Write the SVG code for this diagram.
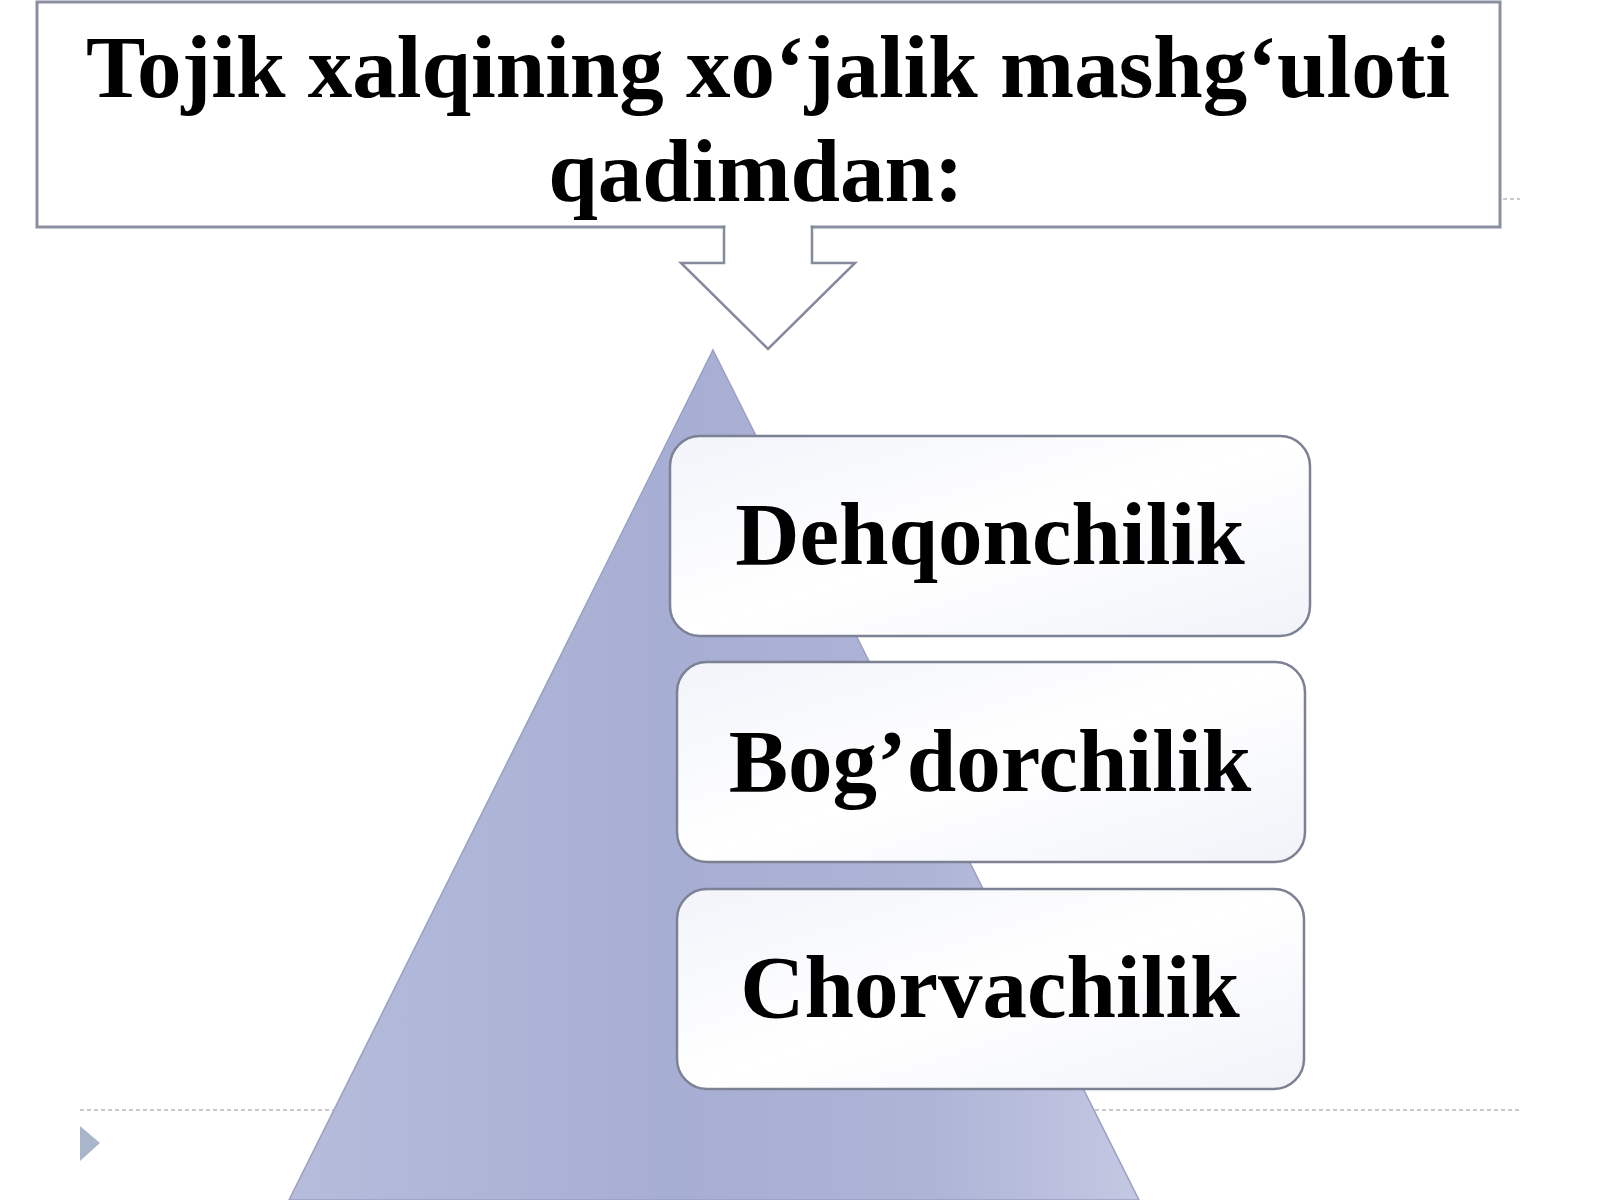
<svg xmlns="http://www.w3.org/2000/svg" width="1600" height="1200" viewBox="0 0 1600 1200">
<defs>
<linearGradient id="triFill" x1="0" y1="0" x2="1" y2="0">
<stop offset="0" stop-color="#b6bcdb"/>
<stop offset="0.45" stop-color="#a7aed3"/>
<stop offset="0.75" stop-color="#adb4d6"/>
<stop offset="1" stop-color="#c3c8e2"/>
</linearGradient>
<linearGradient id="boxFill" x1="0" y1="0" x2="1" y2="1">
<stop offset="0" stop-color="#f2f4fa"/>
<stop offset="0.5" stop-color="#ffffff"/>
<stop offset="1" stop-color="#f1f3f9"/>
</linearGradient>
</defs>
<style>
.title{font-family:"Liberation Serif","Times New Roman",serif;font-weight:bold;font-size:89px;fill:#000;text-anchor:middle}
.lbl{font-family:"Liberation Serif","Times New Roman",serif;font-weight:bold;font-size:89px;fill:#000;text-anchor:middle}
.box{fill:url(#boxFill);stroke:#7c8194;stroke-width:2.5}
.faint{stroke:#b8b8b8;stroke-width:1.5;stroke-dasharray:4 3;fill:none}
</style>
<rect width="1600" height="1200" fill="#ffffff"/>
<g id="decor">
<line class="faint" x1="80" y1="1110" x2="1520" y2="1110"/>
<line class="faint" x1="1503" y1="199" x2="1520" y2="199"/>
<polygon points="80,1126 100,1143 80,1161" fill="#a9b5c8"/>
</g>
<g id="pyramid">
<polygon points="713,350 1139,1200 289,1200" fill="url(#triFill)" stroke="#9aa0c4" stroke-width="1.5"/>
</g>
<g id="title">
<rect x="37" y="2" width="1463" height="225" fill="#ffffff" stroke="#8a8ea2" stroke-width="3"/>
<text class="title" x="768" y="97">Tojik xalqining xo‘jalik mashg‘uloti</text>
<text class="title" x="756" y="201">qadimdan:</text>
</g>
<g id="connectors">
<polygon points="724,227 812,227 812,263 855,263 768,349 681,263 724,263" fill="#ffffff" stroke="#858a9e" stroke-width="2.5" stroke-linejoin="miter"/>
<rect x="725.5" y="222" width="85" height="7" fill="#ffffff"/>
</g>
<g id="node1">
<rect class="box" x="670" y="436" width="640" height="200" rx="30"/>
<text class="lbl" x="990" y="564">Dehqonchilik</text>
</g>
<g id="node2">
<rect class="box" x="677" y="662" width="628" height="200" rx="30"/>
<text class="lbl" x="990" y="791">Bog’dorchilik</text>
</g>
<g id="node3">
<rect class="box" x="677" y="889" width="627" height="200" rx="30"/>
<text class="lbl" x="990" y="1017">Chorvachilik</text>
</g>
</svg>
